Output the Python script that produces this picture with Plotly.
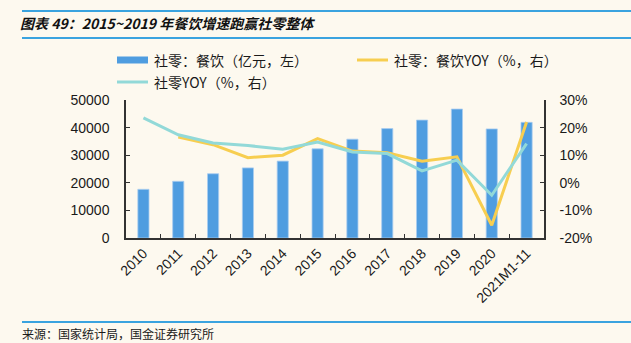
import plotly.graph_objects as go

# Categories and series
years = ["2010", "2011", "2012", "2013", "2014", "2015", "2016",
         "2017", "2018", "2019", "2020", "2021M1-11"]
catering_sales = [17636, 20543, 23283, 25392, 27860, 32310, 35799,
                  39644, 42716, 46721, 39527, 41895]          # 亿元
catering_yoy = [None, 16.6, 13.8, 9.1, 10.0, 16.0, 11.5,
                10.9, 7.8, 9.4, -15.4, 22.0]                   # %
retail_yoy = [23.5, 17.4, 14.4, 13.5, 12.2, 14.8, 11.2,
              10.6, 4.3, 8.2, -4.5, 14.2]                      # %

# Right-axis ticks (plain hyphen for negatives)
yoy_tickvals = [-20, -10, 0, 10, 20, 30]
yoy_ticktext = ["-20%", "-10%", "0%", "10%", "20%", "30%"]

W, H = 631, 343
L, R, T, B = 126, 87, 100, 105
PW, PH = W - L - R, H - T - B

BG = "#FDF9EF"
BAR = "#4F9DE0"
YEL = "#F7CE50"
TEAL = "#92D9D8"
RULE = "#3AA3DF"
AXIS = "#333333"
TXT = "#1a1a1a"
LAT = "Liberation Sans, Arial, sans-serif"
CJK = "Noto Sans CJK SC, sans-serif"


def px(x):
    return (x - L) / PW


def py(y):
    return (H - B - y) / PH


fig = go.Figure()
fig.add_trace(go.Bar(
    x=years, y=catering_sales, name="社零：餐饮（亿元，左）",
    marker=dict(color=BAR, line=dict(color="#A9CDF0", width=0.8)),
    width=0.32, yaxis="y",
))
fig.add_trace(go.Scatter(
    x=years, y=catering_yoy, name="社零：餐饮YOY（%，右）",
    mode="lines", line=dict(color=YEL, width=3), yaxis="y2",
))
fig.add_trace(go.Scatter(
    x=years, y=retail_yoy, name="社零YOY（%，右）",
    mode="lines", line=dict(color=TEAL, width=3), yaxis="y2",
))

tickfont = dict(family=LAT, size=14, color=TXT)
fig.update_layout(
    width=W, height=H,
    margin=dict(l=L, r=R, t=T, b=B),
    paper_bgcolor=BG, plot_bgcolor=BG,
    showlegend=False,
    xaxis=dict(
        type="category", tickangle=-45, tickfont=tickfont,
        showline=True, linecolor=AXIS, linewidth=1.5,
        ticks="inside", ticklen=4, tickcolor=AXIS, tickson="boundaries",
        showgrid=False, zeroline=False,
    ),
    yaxis=dict(
        range=[0, 50000], dtick=10000, tickformat="d", tickfont=tickfont,
        showline=True, linecolor=AXIS, linewidth=1.5,
        ticks="inside", ticklen=4, tickcolor=AXIS,
        showgrid=False, zeroline=False, ticklabelstandoff=12,
    ),
    yaxis2=dict(
        range=[-20, 30], tickmode="array",
        tickvals=yoy_tickvals, ticktext=yoy_ticktext,
        overlaying="y", side="right", tickfont=tickfont,
        showline=True, linecolor=AXIS, linewidth=1.5,
        ticks="inside", ticklen=4, tickcolor=AXIS,
        showgrid=False, zeroline=False, ticklabelstandoff=11,
    ),
)

shapes = []
annotations = []

# Header and footer rules
for yy in (11, 38, 322):
    shapes.append(dict(type="line", xref="paper", yref="paper",
                       x0=px(22), x1=px(631), y0=py(yy), y1=py(yy),
                       line=dict(color=RULE, width=2)))

# Title
annotations.append(dict(
    text="<b><i>图表 49：2015~2019 年餐饮增速跑赢社零整体</i></b>",
    xref="paper", yref="paper", x=px(18), y=py(23),
    xanchor="left", yanchor="middle", showarrow=False,
    font=dict(family=CJK, size=14, color="#111111"),
))

# Legend
legend_items = [
    ("bar", BAR, 117, 60, "社零：餐饮（亿元，左）"),
    ("line", YEL, 357, 60, "社零：餐饮YOY（%，右）"),
    ("line", TEAL, 117, 82, "社零YOY（%，右）"),
]
for kind, color, x0, yc, label in legend_items:
    if kind == "bar":
        shapes.append(dict(type="rect", xref="paper", yref="paper",
                           x0=px(x0), x1=px(x0 + 31),
                           y0=py(yc + 3.5), y1=py(yc - 3.5),
                           fillcolor=color, line=dict(width=0)))
    else:
        shapes.append(dict(type="line", xref="paper", yref="paper",
                           x0=px(x0), x1=px(x0 + 31), y0=py(yc), y1=py(yc),
                           line=dict(color=color, width=3)))
    annotations.append(dict(
        text=label, xref="paper", yref="paper", x=px(x0 + 35), y=py(yc),
        xanchor="left", yanchor="middle", showarrow=False,
        font=dict(family=CJK, size=14, color=TXT),
    ))

# Source note
annotations.append(dict(
    text="来源：国家统计局，国金证券研究所",
    xref="paper", yref="paper", x=px(20), y=py(333),
    xanchor="left", yanchor="middle", showarrow=False,
    font=dict(family=CJK, size=12, color=TXT),
))

fig.update_layout(shapes=shapes, annotations=annotations)
fig.write_html("out.html")
